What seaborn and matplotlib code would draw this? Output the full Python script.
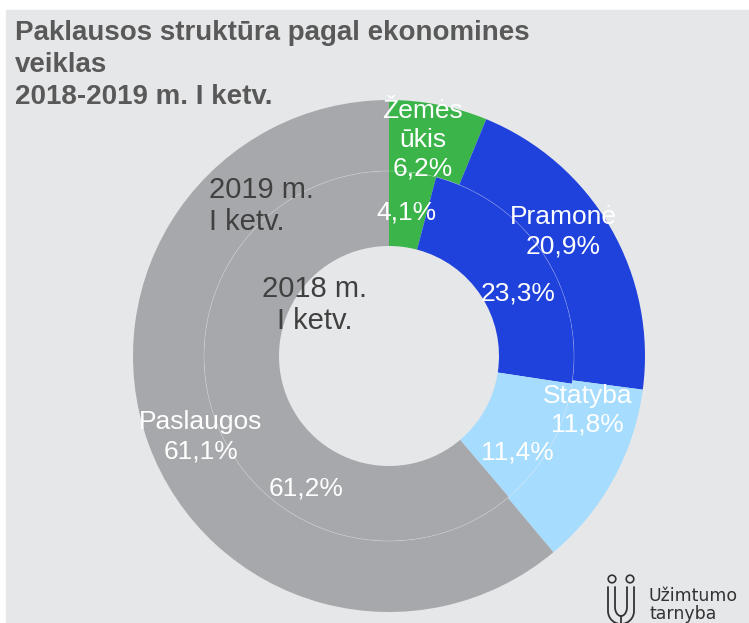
import numpy as np
import seaborn as sns
import matplotlib.pyplot as plt
from matplotlib.patches import Rectangle, Circle

# duomenys
categories = ["Žemės\nūkis", "Pramonė", "Statyba", "Paslaugos"]
share_2019 = [6.2, 20.9, 11.8, 61.1]
share_2018 = [4.1, 23.3, 11.4, 61.2]
colors = ["#3bb54a", "#1f42dc", "#a6dcfe", "#a7a8ab"]
title_lines = ["Paklausos struktūra pagal ekonomines", "veiklas", "2018-2019 m. I ketv."]

# etikečių vietos (spindulys px, kampas nuo viršaus pagal laikrodžio rodyklę)
outer_label_pos = [(219, 8.9), (214, 54.5), (206, 105.2), (205, 246.8)]
inner_label_pos = [(145, 7.1), (144, 64.1), (161, 127.0), (156, 212.0)]

sns.set_theme(style="white")
plt.rcParams["font.family"] = ["Liberation Sans", "DejaVu Sans"]

W, H = 749, 623
fig = plt.figure(figsize=(W / 100, H / 100), dpi=100, facecolor="white")
fig.patches.append(Rectangle((6 / W, 0), 1, (H - 10) / H, transform=fig.transFigure,
                             color="#e6e7e9", zorder=-10))

R = 256
cx, cy = 389, 356
r_mid, r_hole = 185, 110

ax = fig.add_axes([0, 0, 1, 1])
ax.set_zorder(1)
ax.patch.set_alpha(0)
ax.pie(share_2019, radius=1, colors=colors, startangle=90, counterclock=False,
       wedgeprops=dict(width=(R - r_mid) / R, linewidth=0))
ax.pie(share_2018, radius=r_mid / R, colors=colors, startangle=90, counterclock=False,
       wedgeprops=dict(width=(r_mid - r_hole) / R, linewidth=0))
ax.add_patch(Circle((0, 0), r_mid / R, fill=False, ec="white", lw=0.5, alpha=0.3))
ax.set_xlim(-cx / R, (W - cx) / R)
ax.set_ylim(-(H - cy) / R, cy / R)
ax.set_aspect("auto")
ax.axis("off")


def fmt(v):
    return f"{v:.1f}".replace(".", ",") + "%"


def polar(r, a):
    a = np.deg2rad(a)
    return r * np.sin(a) / R, r * np.cos(a) / R


for cat, v, (r, a) in zip(categories, share_2019, outer_label_pos):
    x, y = polar(r, a)
    ax.text(x, y, f"{cat}\n{fmt(v)}", ha="center", va="center", color="white",
            fontsize=19, linespacing=1.24)

for v, (r, a) in zip(share_2018, inner_label_pos):
    x, y = polar(r, a)
    ax.text(x, y, fmt(v), ha="center", va="center", color="white", fontsize=19)

ax.text((209 - cx) / R, (cy - 206) / R, "2019 m.\nI ketv.", ha="left", va="center",
        color="#404040", fontsize=21, linespacing=1.2)
ax.text((315 - cx) / R, (cy - 305) / R, "2018 m.\nI ketv.", ha="center", va="center",
        color="#404040", fontsize=21, linespacing=1.2)

# antraštė - kiekviena eilutė atskirai
for i, line in enumerate(title_lines):
    fig.text(15 / W, 1 - (30 + 32 * i) / H, line, ha="left", va="center_baseline",
             fontsize=20, fontweight="bold", color="#595959")

# logotipas
lax = fig.add_axes([600 / W, 0, 45 / W, 55 / H])
lax.set_zorder(2)
lax.set_xlim(600, 645)
lax.set_ylim(623, 568)
lax.axis("off")
lax.add_patch(Circle((612, 579), 3.8, fill=False, ec="#333333", lw=1.2))
lax.add_patch(Circle((630, 579), 3.8, fill=False, ec="#333333", lw=1.2))
t = np.linspace(np.pi, 0, 30)
ux = np.r_[608, 608 + 13 * (1 + np.cos(t)), 634]
uy = np.r_[587, 611 + 13 * np.sin(t), 587]
lax.plot(ux, uy, color="#333333", lw=1.3)
ix = np.r_[615, 615 + 6 * (1 + np.cos(t)), 627]
iy = np.r_[587, 607 + 9 * np.sin(t), 587]
lax.plot(ix, iy, color="#333333", lw=1.3)
lax.plot([621, 621], [616, 623], color="#333333", lw=1.3)

fig.text(649 / W, 1 - 605 / H, "Užimtumo\ntarnyba", ha="left", va="center",
         fontsize=12.5, color="#333333", linespacing=0.95, family=["DejaVu Sans"])

fig.savefig("out.png", dpi=100, facecolor=fig.get_facecolor())
